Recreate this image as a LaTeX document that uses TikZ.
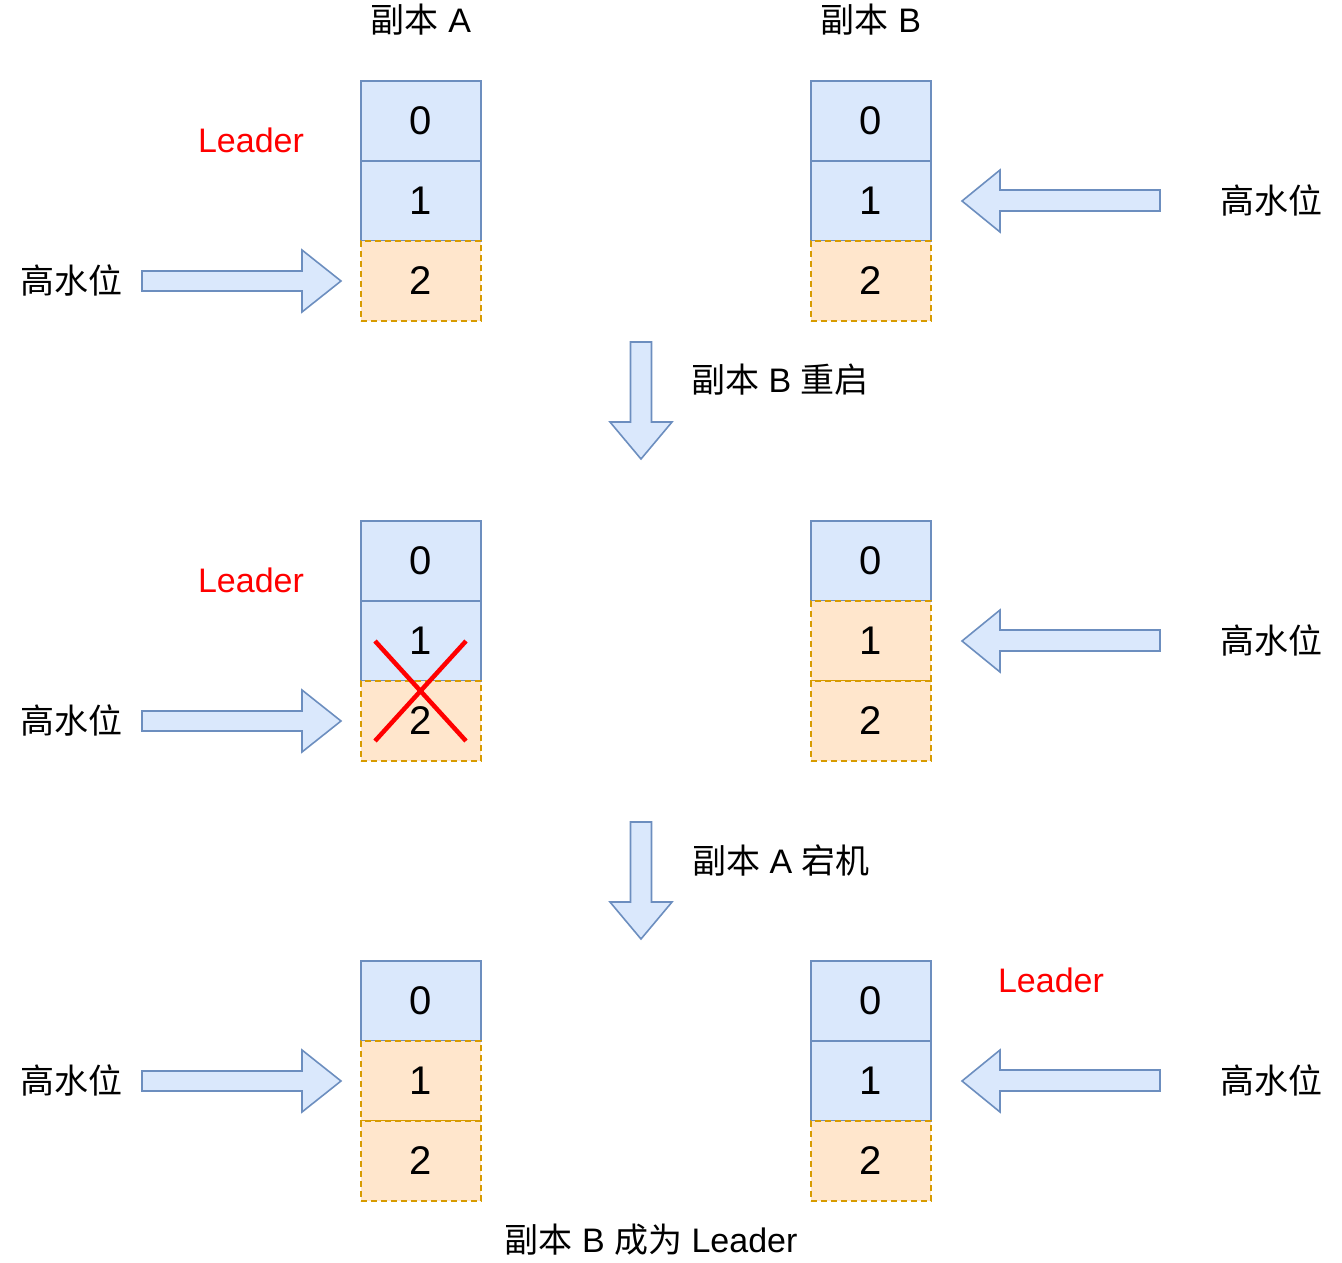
\documentclass[tikz,border=0pt]{standalone}
\usepackage{fontspec}
\setmainfont{Liberation Sans}
\newfontfamily\cjk{Noto Sans CJK SC}
\definecolor{bfill}{HTML}{DAE8FC}
\definecolor{bline}{HTML}{6C8EBF}
\definecolor{ofill}{HTML}{FFE6CC}
\definecolor{oline}{HTML}{D79B00}
\definecolor{lred}{HTML}{FF0000}
\tikzset{
  cellbase/.style={minimum width=120pt,minimum height=80pt,inner sep=0pt,outer sep=0pt,line width=1.6pt,font=\fontsize{40}{46}\selectfont},
  bcell/.style={cellbase,draw=bline,fill=bfill},
  ocell/.style={cellbase,draw=oline,fill=ofill,dash pattern=on 6pt off 4pt},
  lbl/.style={inner sep=0pt,font=\fontsize{34}{40}\selectfont},
  redlbl/.style={lbl,text=lred},
  blockarrow/.style={draw=bline,fill=bfill,line width=1.6pt,line join=miter},
  crossline/.style={draw=lred,line width=4.5pt}
}
\newcommand{\rarrow}[1]{%
  \draw[blockarrow] (142,-#1+10) -- (302,-#1+10) -- (302,-#1+31) -- (341,-#1) -- (302,-#1-31) -- (302,-#1-10) -- (142,-#1-10) -- cycle;}
\newcommand{\larrow}[1]{%
  \draw[blockarrow] (962,-#1) -- (1000,-#1+31) -- (1000,-#1+11) -- (1160,-#1+11) -- (1160,-#1-10) -- (1000,-#1-10) -- (1000,-#1-31) -- cycle;}
\newcommand{\darrow}[1]{%
  \draw[blockarrow] (630.5,-#1) -- (651.5,-#1) -- (651.5,-#1-80) -- (672,-#1-80) -- (641,-#1-117) -- (610,-#1-80) -- (630.5,-#1-80) -- cycle;}
\begin{document}
\begin{tikzpicture}[x=1pt,y=1pt]
\useasboundingbox (0,0) rectangle (1342,-1262);

% titles
\node[lbl] (tA) at (421,-20) {{\cjk 副本} A};
\node[lbl] (tB) at (871,-20) {{\cjk 副本} B};

% ---------- group 1 ----------
\node[bcell] (a10) at (421,-121) {0};
\node[bcell] (a11) at (421,-201) {1};
\node[ocell] (a12) at (421,-281) {2};
\node[bcell] (b10) at (871,-121) {0};
\node[bcell] (b11) at (871,-201) {1};
\node[ocell] (b12) at (871,-281) {2};
\node[redlbl] (ld1) at (251,-140) {Leader};
\node[lbl] (hl1) at (71,-280) {\cjk 高水位};
\node[lbl] (hr1) at (1271,-200) {\cjk 高水位};
\rarrow{281}
\larrow{201}

% transition 1
\darrow{342}
\node[lbl] (s1) at (780,-380) {{\cjk 副本} B {\cjk 重启}};

% ---------- group 2 ----------
\node[bcell] (a20) at (421,-561) {0};
\node[bcell] (a21) at (421,-641) {1};
\node[ocell] (a22) at (421,-721) {2};
\node[bcell] (b20) at (871,-561) {0};
\node[ocell] (b21) at (871,-641) {1};
\node[ocell] (b22) at (871,-721) {2};
\node[redlbl] (ld2) at (251,-580) {Leader};
\node[lbl] (hl2) at (71,-720) {\cjk 高水位};
\node[lbl] (hr2) at (1271,-640) {\cjk 高水位};
\rarrow{721}
\larrow{641}
\draw[crossline] (375,-641) -- (466,-741);
\draw[crossline] (466,-641) -- (375,-741);

% transition 2
\darrow{822}
\node[lbl] (s2) at (781,-860) {{\cjk 副本} A {\cjk 宕机}};

% ---------- group 3 ----------
\node[bcell] (a30) at (421,-1001) {0};
\node[ocell] (a31) at (421,-1081) {1};
\node[ocell] (a32) at (421,-1161) {2};
\node[bcell] (b30) at (871,-1001) {0};
\node[bcell] (b31) at (871,-1081) {1};
\node[ocell] (b32) at (871,-1161) {2};
\node[redlbl] (ld3) at (1051,-980) {Leader};
\node[lbl] (hl3) at (71,-1080) {\cjk 高水位};
\node[lbl] (hr3) at (1271,-1080) {\cjk 高水位};
\rarrow{1081}
\larrow{1081}

\node[lbl] (bot) at (651,-1240) {{\cjk 副本} B {\cjk 成为} Leader};
\end{tikzpicture}
\end{document}
